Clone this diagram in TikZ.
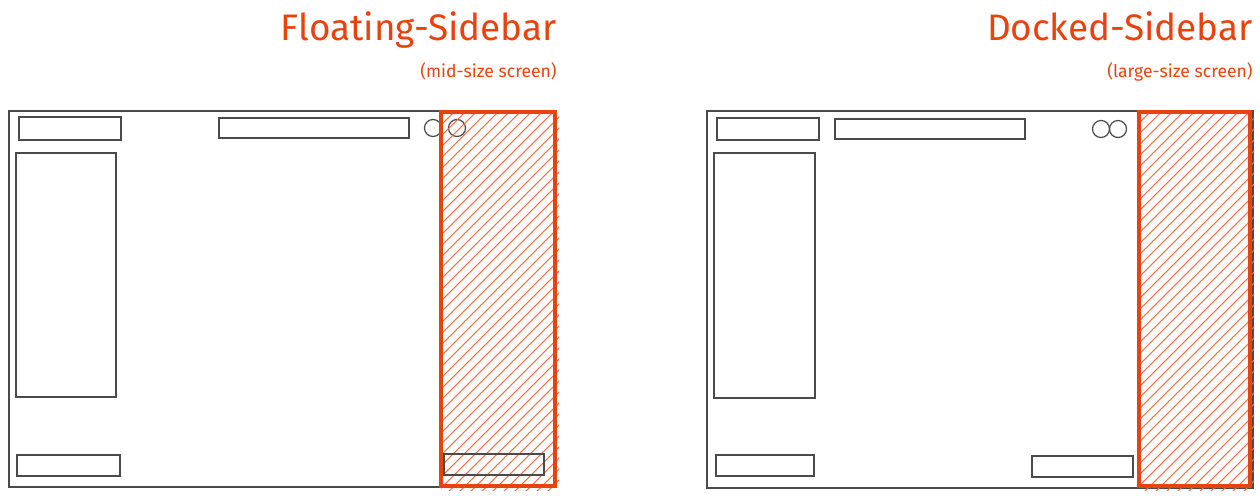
\documentclass[tikz,border=0pt]{standalone}
\usepackage{fontspec}
\setmainfont{Fira Sans}
\definecolor{sketchred}{HTML}{E8420E}
\definecolor{sketchgray}{HTML}{4A4A4A}
\begin{document}
\begin{tikzpicture}[x=0.02cm,y=-0.02cm,
    frame/.style={draw=sketchgray,line width=1pt},
    box/.style={draw=sketchgray,line width=1pt},
    dot/.style={draw=sketchgray,line width=0.7pt},
    sidebar/.style={draw=sketchred,line width=1.9pt},
    hatch/.style={draw=sketchred!75,line width=0.6pt},
    title/.style={text=sketchred,anchor=base east,inner sep=0pt,font=\fontsize{21}{24}\selectfont},
    subtitle/.style={text=sketchred,anchor=base east,inner sep=0pt,font=\fontsize{10}{12}\selectfont}]
    \useasboundingbox (0,0) rectangle (1260,495);
    % titles
    \path (557,40) node[title] (floattitle) {Floating-Sidebar};
    \path (557,77) node[subtitle] (floatsub) {(mid-size screen)};
    \path (1253,40) node[title] (docktitle) {Docked-Sidebar};
    \path (1253,77) node[subtitle] (docksub) {(large-size screen)};
    % mid-size screen
    \draw [frame] (9,111) rectangle (555,487);
    \draw [box] (19,117) rectangle (121,140);
    \draw [box] (219,118) rectangle (409,138);
    \draw [dot] (433,128) circle (8.5);
    \draw [dot] (457,128) circle (8.5);
    \draw [box] (16,153) rectangle (116,397);
    \draw [box] (17,455) rectangle (120,476);
    \begin{scope}
        \clip (441,112) rectangle (559,490);
        \foreach \c in {555,566,...,1045}
            \draw [hatch] (\c-500,500) -- (\c-100,100);
    \end{scope}
    \draw [box] (444,454) rectangle (544,475);
    \draw [sidebar] (441,112) rectangle (555,486);
    % large-size screen
    \draw [frame] (707,111) rectangle (1253,488);
    \draw [box] (717,118) rectangle (819,140);
    \draw [box] (835,119) rectangle (1025,139);
    \draw [dot] (1101,129) circle (8.5);
    \draw [dot] (1118,129) circle (8.5);
    \draw [box] (714,153) rectangle (815,398);
    \draw [box] (716,455) rectangle (814,476);
    \draw [box] (1032,456) rectangle (1133,477);
    \begin{scope}
        \clip (1139,112) rectangle (1254,490);
        \foreach \c in {1251,1262,...,1745}
            \draw [hatch] (\c-500,500) -- (\c-100,100);
    \end{scope}
    \draw [sidebar] (1139,112) rectangle (1250,486);
\end{tikzpicture}
\end{document}
